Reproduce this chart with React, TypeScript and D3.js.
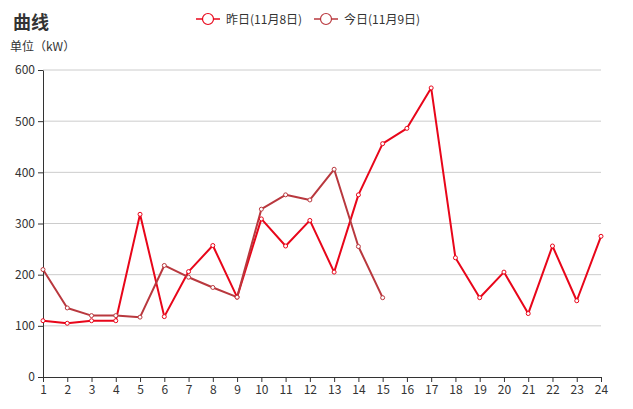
import React, { useEffect, useRef } from 'react';
import * as d3 from 'd3';

const hours = d3.range(1, 25);
const yesterday = [110, 105, 110, 110, 318, 118, 206, 257, 156, 309, 256, 306, 205, 356, 456, 486, 565, 233, 155, 205, 124, 256, 149, 275];
const today = [210, 135, 120, 120, 117, 218, 195, 175, 156, 328, 356, 346, 406, 255, 155];
const yTicks = [0, 100, 200, 300, 400, 500, 600];
const seriesNames = ['昨日(11月8日)', '今日(11月9日)'];
const colors = ['#e8061a', '#b9383e'];

const W = 633;
const H = 409;

const App: React.FC = () => {
  const svgRef = useRef<SVGSVGElement>(null);

  useEffect(() => {
    if (!svgRef.current) return;
    const svg = d3.select(svgRef.current);
    svg.selectAll('*').remove();

    const font = '"Noto Sans CJK SC", "Microsoft YaHei", sans-serif';
    const margin = { top: 70, right: 32, bottom: 32, left: 43 };
    const innerW = W - margin.left - margin.right;
    const innerH = H - margin.top - margin.bottom;

    const x = d3.scaleLinear().domain([1, 24]).range([0, innerW]);
    const y = d3.scaleLinear().domain([0, 600]).range([innerH, 0]);

    // top border
    svg.append('line')
      .attr('x1', 0).attr('x2', W).attr('y1', 1).attr('y2', 1)
      .attr('stroke', '#ccc').attr('stroke-width', 1.5);

    svg.append('text')
      .attr('x', 13).attr('y', 29)
      .attr('font-family', font).attr('font-size', 18).attr('font-weight', 'bold')
      .attr('fill', '#333')
      .text('曲线');

    svg.append('text')
      .attr('x', 10).attr('y', 51)
      .attr('font-family', font).attr('font-size', 12)
      .attr('fill', '#333')
      .text('单位（kW）');

    // legend
    const legendX = [196, 314];
    seriesNames.forEach((name, i) => {
      const lg = svg.append('g').attr('transform', `translate(${legendX[i]},19)`);
      lg.append('line').attr('x1', 0).attr('x2', 24).attr('y1', 0).attr('y2', 0)
        .attr('stroke', colors[i]).attr('stroke-width', 1.5);
      lg.append('circle').attr('cx', 12).attr('cy', 0).attr('r', 5.5)
        .attr('fill', '#fff').attr('stroke', colors[i]).attr('stroke-width', 1.2);
      lg.append('text').attr('x', 30).attr('y', 4.5)
        .attr('font-family', font).attr('font-size', 12).attr('fill', '#333')
        .text(name);
    });

    const g = svg.append('g').attr('transform', `translate(${margin.left},${margin.top})`);

    // grid
    g.append('g')
      .selectAll('line')
      .data(yTicks.filter(t => t > 0))
      .join('line')
      .attr('x1', 0).attr('x2', innerW)
      .attr('y1', d => y(d)).attr('y2', d => y(d))
      .attr('stroke', '#ccc').attr('stroke-width', 1);

    // y axis
    const yAxis = g.append('g')
      .call(d3.axisLeft(y).tickValues(yTicks).tickSize(5).tickSizeOuter(0).tickPadding(3));
    yAxis.select('.domain').attr('stroke', '#333');
    yAxis.selectAll('.tick line').attr('stroke', '#333');
    yAxis.selectAll('.tick text').attr('fill', '#333').attr('font-size', 12).attr('font-family', font);

    // x axis
    const xAxis = g.append('g')
      .attr('transform', `translate(0,${innerH})`)
      .call(d3.axisBottom(x).tickValues(hours).tickFormat(d3.format('d')).tickSize(5).tickSizeOuter(0).tickPadding(3));
    xAxis.select('.domain').attr('stroke', '#333');
    xAxis.selectAll('.tick line').attr('stroke', '#333');
    xAxis.selectAll('.tick text').attr('fill', '#333').attr('font-size', 12).attr('font-family', font);

    const line = d3.line<number>()
      .x((_, i) => x(hours[i]))
      .y(d => y(d));

    [yesterday, today].forEach((data, i) => {
      g.append('path')
        .datum(data)
        .attr('fill', 'none')
        .attr('stroke', colors[i])
        .attr('stroke-width', 2)
        .attr('stroke-linejoin', 'round')
        .attr('d', line);
    });

    [yesterday, today].forEach((data, i) => {
      g.append('g')
        .selectAll('circle')
        .data(data)
        .join('circle')
        .attr('cx', (_, j) => x(hours[j]))
        .attr('cy', d => y(d))
        .attr('r', 2)
        .attr('fill', '#fff')
        .attr('stroke', colors[i])
        .attr('stroke-width', 1);
    });
  }, []);

  return <svg ref={svgRef} width={W} height={H} style={{ display: 'block', margin: -8 }} />;
};

export default App;
